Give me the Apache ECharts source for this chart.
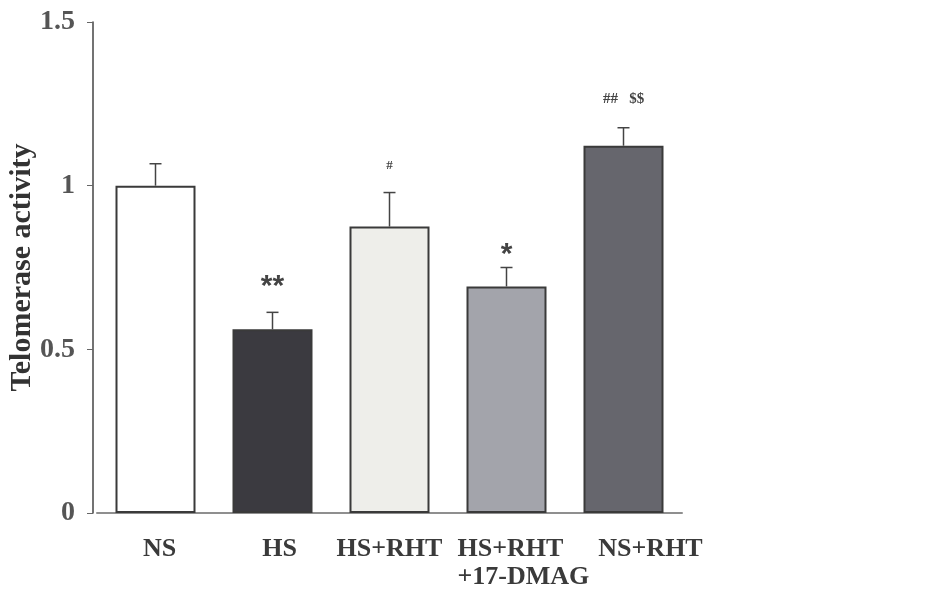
<!DOCTYPE html>
<html><head><meta charset="utf-8">
<script src="https://cdn.jsdelivr.net/npm/echarts@6/dist/echarts.min.js"></script>
<style>html,body{margin:0;padding:0;background:#fff}#c{width:941px;height:594px}</style>
</head><body><div id="c"></div>
<script>
var categories = ['NS', 'HS', 'HS+RHT', 'HS+RHT\n+17-DMAG', 'NS+RHT'];
var means = [1.0, 0.561, 0.875, 0.692, 1.122];
var errTops = [1.067, 0.613, 0.979, 0.75, 1.177];
var marks = ['', '**', '#', '*', '##   $$'];
var yTicks = [0, 0.5, 1, 1.5];

var barColors = ['#ffffff', '#3b3a40', '#eeeeea', '#a3a4ab', '#66666d'];
var markSize = [0, 30, 13, 30, 15];
var markLift = [0, 11, 20, -2, 21];
var markFont = ['', 'Liberation Sans', 'Liberation Serif', 'Liberation Sans', 'Liberation Serif'];
var labelPadLeft = [8, 14, 0, 40, 54];

var labelBase = {fontFamily: 'Liberation Serif', fontWeight: 'bold', fontSize: 26, lineHeight: 28, color: '#3a3a3a'};
var rich = {};
labelPadLeft.forEach(function (p, i) {
  rich['p' + i] = Object.assign({padding: [0, 0, 0, p]}, labelBase);
});
rich.l = Object.assign({width: 138, align: 'left', padding: [0, 0, 0, labelPadLeft[3]]}, labelBase);

var chart = echarts.init(document.getElementById('c'));
chart.setOption({
  animation: false,
  backgroundColor: '#fff',
  grid: {left: 97, top: 22, width: 585, bottom: 81, containLabel: false, outerBoundsMode: 'none'},
  xAxis: {
    type: 'category', data: categories,
    axisLine: {lineStyle: {color: '#8f8f8f', width: 2}},
    axisTick: {alignWithLabel: true, length: 10, lineStyle: {color: '#777', width: 1}},
    axisLabel: {interval: 0, color: '#3a3a3a', fontFamily: 'Liberation Serif', fontWeight: 'bold', fontSize: 26, margin: 22, lineHeight: 28,
      formatter: function (v, idx) {
        if (v.indexOf('\n') >= 0) {
          return v.split('\n').map(function (s) { return '{l|' + s + '}'; }).join('\n');
        }
        return '{p' + idx + '|' + v + '}';
      },
      rich: rich
    }
  },
  yAxis: {
    type: 'value', min: 0, max: 1.5, interval: 0.5, offset: 4,
    name: 'Telomerase activity', nameLocation: 'middle', nameGap: 56, nameRotate: 90, nameMoveOverlap: false,
    nameTextStyle: {color: '#333', fontFamily: 'Liberation Serif', fontWeight: 'bold', fontSize: 30},
    axisLine: {show: true, lineStyle: {color: '#444', width: 1.5}},
    axisTick: {show: true, length: 6, lineStyle: {color: '#666'}},
    axisLabel: {color: '#555', fontFamily: 'Liberation Serif', fontWeight: 'bold', fontSize: 28, margin: 18,
      formatter: function (v) { return yTicks.indexOf(v) >= 0 ? String(v) : ''; }},
    splitLine: {show: false}
  },
  series: [
    {
      type: 'bar', barWidth: 80,
      data: means.map(function (v, i) {
        return {value: v, itemStyle: {color: barColors[i], borderColor: '#3a3a3a', borderWidth: 2}};
      })
    },
    {
      type: 'custom', z: 5,
      data: means.map(function (v, i) { return [i, v, errTops[i]]; }),
      renderItem: function (params, api) {
        var i = api.value(0);
        var base = api.coord([i, api.value(1)]);
        var top = api.coord([i, api.value(2)]);
        var children = [
          {type: 'line', shape: {x1: base[0], y1: base[1], x2: top[0], y2: top[1]}, style: {stroke: '#444', lineWidth: 1.5}},
          {type: 'line', shape: {x1: top[0] - 6, y1: top[1], x2: top[0] + 6, y2: top[1]}, style: {stroke: '#444', lineWidth: 1.5}}
        ];
        if (marks[i]) {
          children.push({type: 'text', x: top[0], y: top[1] - markLift[i],
            style: {text: marks[i], fill: '#444', font: 'bold ' + markSize[i] + 'px "' + markFont[i] + '"', align: 'center', verticalAlign: 'bottom'}});
        }
        return {type: 'group', children: children};
      }
    }
  ]
});
</script></body></html>
